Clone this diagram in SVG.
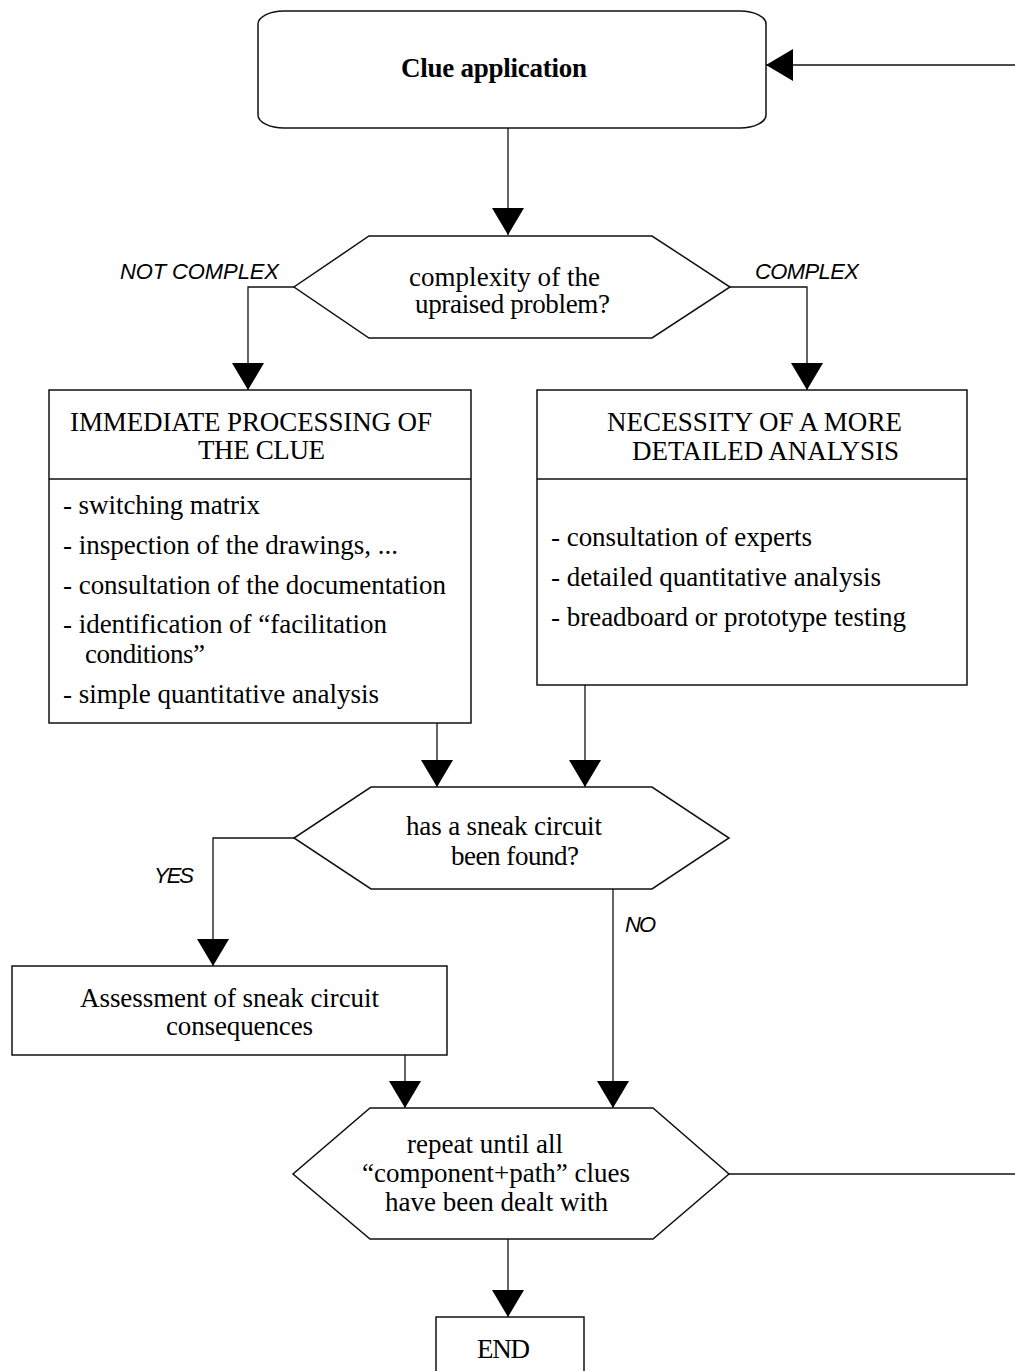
<svg xmlns="http://www.w3.org/2000/svg" width="1015" height="1371" viewBox="0 0 1015 1371">
<style>
.shape{fill:#fff;stroke:#111;stroke-width:1.5}
.conn{fill:none;stroke:#111;stroke-width:1.3}
.t{font-family:"Liberation Serif","Times New Roman",serif;font-size:27px;fill:#000}
.b{font-weight:bold}
.lbl{font-family:"Liberation Sans",Arial,sans-serif;font-style:italic;font-size:22px;fill:#000}
</style>
<defs>
<marker id="arr" viewBox="0 0 27 32" refX="27" refY="16" markerWidth="27" markerHeight="32" markerUnits="userSpaceOnUse" orient="auto">
<path d="M0,0 L27,16 L0,32 Z" fill="#000"/>
</marker>
</defs>
<rect width="1015" height="1371" fill="#fff"/>
<g id="connectors">
<path class="conn" d="M508,128 V235" marker-end="url(#arr)"/>
<path class="conn" d="M294,287 H248 V390" marker-end="url(#arr)"/>
<path class="conn" d="M730,287 H807 V390" marker-end="url(#arr)"/>
<path class="conn" d="M437,723 V787" marker-end="url(#arr)"/>
<path class="conn" d="M585,685 V787" marker-end="url(#arr)"/>
<path class="conn" d="M294,838 H213 V966" marker-end="url(#arr)"/>
<path class="conn" d="M613,889 V1108" marker-end="url(#arr)"/>
<path class="conn" d="M405,1055 V1108" marker-end="url(#arr)"/>
<path class="conn" d="M508,1239 V1317" marker-end="url(#arr)"/>
<path class="conn" d="M729,1174 H1015"/>
<path class="conn" d="M1015,65 H766" marker-end="url(#arr)"/>
<text class="lbl" x="120" y="279" textLength="159">NOT COMPLEX</text>
<text class="lbl" x="755" y="279" textLength="104">COMPLEX</text>
<text class="lbl" x="154" y="883" textLength="40">YES</text>
<text class="lbl" x="625" y="932" textLength="31">NO</text>
</g>
<g id="clue-application">
<rect class="shape" x="258" y="11" width="508" height="117" rx="26" ry="13"/>
<text class="t b" x="401" y="77" textLength="186">Clue application</text>
</g>
<g id="complexity">
<polygon class="shape" points="369,236 652,236 730,287 652,338 369,338 294,287"/>
<text class="t" x="409" y="286" textLength="191">complexity of the</text>
<text class="t" x="415" y="313" textLength="195">upraised problem?</text>
</g>
<g id="immediate">
<rect class="shape" x="49" y="390" width="422" height="333"/>
<line class="shape" x1="49" y1="479" x2="471" y2="479"/>
<text class="t" x="70" y="431" textLength="362">IMMEDIATE PROCESSING OF</text>
<text class="t" x="198" y="459" textLength="127">THE CLUE</text>
<text class="t" x="63" y="514" textLength="197">- switching matrix</text>
<text class="t" x="63" y="554" textLength="335">- inspection of the drawings, ...</text>
<text class="t" x="63" y="594" textLength="383">- consultation of the documentation</text>
<text class="t" x="63" y="633" textLength="324">- identification of “facilitation</text>
<text class="t" x="85" y="663" textLength="120">conditions”</text>
<text class="t" x="63" y="703" textLength="316">- simple quantitative analysis</text>
</g>
<g id="detailed">
<rect class="shape" x="537" y="390" width="430" height="295"/>
<line class="shape" x1="537" y1="479" x2="967" y2="479"/>
<text class="t" x="607" y="431" textLength="295">NECESSITY OF A MORE</text>
<text class="t" x="632" y="460" textLength="267">DETAILED ANALYSIS</text>
<text class="t" x="551" y="546" textLength="261">- consultation of experts</text>
<text class="t" x="551" y="586" textLength="330">- detailed quantitative analysis</text>
<text class="t" x="551" y="626" textLength="355">- breadboard or prototype testing</text>
</g>
<g id="found">
<polygon class="shape" points="371,787 652,787 729,838 652,889 371,889 294,838"/>
<text class="t" x="406" y="835" textLength="196">has a sneak circuit</text>
<text class="t" x="451" y="865" textLength="128">been found?</text>
</g>
<g id="assessment">
<rect class="shape" x="12" y="966" width="435" height="89"/>
<text class="t" x="80" y="1007" textLength="299">Assessment of sneak circuit</text>
<text class="t" x="166" y="1035" textLength="147">consequences</text>
</g>
<g id="repeat">
<polygon class="shape" points="370,1108 653,1108 729,1174 653,1239 370,1239 293,1174"/>
<text class="t" x="407" y="1153" textLength="156">repeat until all</text>
<text class="t" x="362" y="1182" textLength="268">“component+path” clues</text>
<text class="t" x="385" y="1211" textLength="223">have been dealt with</text>
</g>
<g id="end">
<rect class="shape" x="436" y="1317" width="148" height="70"/>
<text class="t" x="477" y="1358" textLength="53">END</text>
</g>
</svg>
